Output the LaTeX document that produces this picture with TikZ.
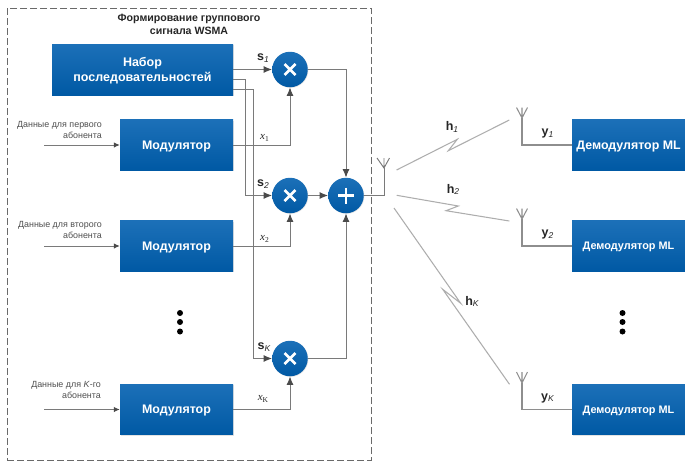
\documentclass[tikz,border=0pt]{standalone}
\usepackage{fontspec}
\setmainfont{Liberation Sans}
\newfontfamily\serifx{Liberation Serif}
\usetikzlibrary{arrows.meta,shadows,calc}
\definecolor{boxtop}{HTML}{1C70B8}
\definecolor{boxbot}{HTML}{0059A4}
\definecolor{wire}{HTML}{7A7A7A}
\definecolor{framegray}{HTML}{6A6A6A}
\definecolor{rxgray}{HTML}{8E8E8E}
\definecolor{tiparrow}{HTML}{4A4A4A}
\definecolor{txtgray}{HTML}{4F4F4F}
\definecolor{linkgray}{HTML}{ADADAD}
\newcommand\symlab[2]{{\fontsize{12.5}{13}\selectfont\bfseries #1}\raisebox{-1.5pt}{\fontsize{8.5}{8.5}\selectfont\itshape #2}}
\newcommand\xlab[2]{{\serifx\fontsize{11}{11}\selectfont\itshape #1}\raisebox{-2pt}{\serifx\fontsize{7.5}{7.5}\selectfont #2}}
\tikzset{
  x=1pt,y=-1pt,
  bluebox/.style={rectangle,inner sep=0pt,text depth=0pt,top color=boxtop,bottom color=boxbot,draw=none,text=white,
    align=center,font=\fontsize{12.4}{14}\selectfont\bfseries,
    drop shadow={opacity=.22,shadow xshift=.8pt,shadow yshift=-.8pt}},
  modbox/.style={bluebox,minimum width=113pt,minimum height=50.5pt},
  ball/.style={circle,inner sep=0pt,minimum size=35.5pt,top color=boxtop,bottom color=boxbot,draw=none,
    drop shadow={opacity=.22,shadow xshift=.6pt,shadow yshift=-.6pt}},
  mulball/.style={ball,path picture={\draw[white,line width=2.8pt]
      ($(path picture bounding box.center)+(-5.5,-5.5)$) -- ++(11,11)
      ($(path picture bounding box.center)+(5.5,-5.5)$) -- ++(-11,11);}},
  sumball/.style={ball,path picture={\draw[white,line width=2.8pt]
      ($(path picture bounding box.center)+(-8,0)$) -- ++(16,0)
      ($(path picture bounding box.center)+(0,-8)$) -- ++(0,16);}},
  wireline/.style={draw=wire,line width=.95pt},
  arrowline/.style={wireline,-{Latex[length=8.5pt,width=7pt,color=tiparrow]}},
  smallarrow/.style={wireline,-{Latex[length=6pt,width=5.5pt,color=tiparrow]}},
  linkline/.style={draw=linkgray,line width=1.05pt,line join=miter},
  antennaline/.style={draw=wire,line width=.95pt},
  rxline/.style={draw=rxgray,line width=1.05pt},
  datatext/.style={inner sep=0pt,anchor=east,align=right,text=txtgray,font=\fontsize{8.9}{11}\selectfont},
  sym/.style={inner sep=0pt,text=black!85},
  bigdot/.style={circle,fill=black,inner sep=0pt,minimum size=6pt},
}
\begin{document}
\begin{tikzpicture}
\useasboundingbox (0,0) rectangle (685,461);
\fill[white] (0,0) rectangle (685,461);
% frame
\node[draw=framegray,line width=.9pt,dash pattern=on 7pt off 3pt,rectangle,inner sep=0pt,minimum width=364pt,minimum height=452pt] (frame) at (189,234) {};
\node[inner sep=0pt,align=center,text=black!85,font=\fontsize{10.6}{13}\selectfont\bfseries] (title) at (189,24.5) {Формирование группового\\сигнала WSMA};
% blocks
\node[bluebox,minimum width=181pt,minimum height=51pt,font=\fontsize{12.5}{15}\selectfont\bfseries] (nabor) at (142.5,69.5) {Набор\\последовательностей};
\node[modbox] (mod1) at (176.5,145) {Модулятор};
\node[modbox] (mod2) at (176.5,246) {Модулятор};
\node[modbox] (modk) at (176.5,409.5) {Модулятор};
\node[mulball] (mul1) at (290,69.5) {};
\node[mulball] (mul2) at (290,195.5) {};
\node[mulball] (mulk) at (290,358.5) {};
\node[sumball] (sum) at (346,195.5) {};
\node[modbox,font=\fontsize{12.4}{14}\selectfont\bfseries] (dem1) at (628.5,145) {Демодулятор ML};
\node[modbox,font=\fontsize{10.9}{14}\selectfont\bfseries] (dem2) at (628.5,246) {Демодулятор ML};
\node[modbox,font=\fontsize{10.9}{14}\selectfont\bfseries] (demk) at (628.5,409.5) {Демодулятор ML};
% data labels
\node[datatext] (d1) at (102,129.5) {Данные для первого\\абонента};
\node[datatext] (d2) at (102,230) {Данные для второго\\абонента};
\node[datatext] (dk) at (101,389.5) {Данные для \textit{K}-го\\абонента};
% input stubs
\coordinate (in1) at (44,145);
\coordinate (in2) at (44,246);
\coordinate (ink) at (44,409.5);
\draw[smallarrow] (in1) -- (mod1);
\draw[smallarrow] (in2) -- (mod2);
\draw[smallarrow] (ink) -- (modk);
% sequences
\coordinate (out2) at (233,79.5);
\coordinate (outk) at (233,89);
\coordinate (turn2) at (245,79.5);
\coordinate (turnk) at (253,89);
\draw[arrowline] (nabor.east) -- (mul1.west);
\draw[arrowline] (out2) -- (turn2) |- (mul2.west);
\draw[arrowline] (outk) -- (turnk) |- (mulk.west);
% modulators to multipliers
\draw[arrowline] (mod1.east) -| (mul1.south);
\draw[arrowline] (mod2.east) -| (mul2.south);
\draw[arrowline] (modk.east) -| (mulk.south);
% to adder
\draw[arrowline] (mul1.east) -| (sum.north);
\draw[arrowline] (mul2.east) -- (sum.west);
\draw[arrowline] (mulk.east) -| (sum.south);
% tx antenna
\coordinate (txa) at (384,195.5);
\coordinate (txt) at (384,168);
\draw[antennaline] (sum.east) -- (txa) -- (txt);
\draw[antennaline] (377,158) -- (txt) -- (389.5,158) (txt) -- (384,158);
% rx antennas
\coordinate (rx1c) at (522,145);
\coordinate (rx1t) at (522,118);
\coordinate (rx2c) at (522,246);
\coordinate (rx2t) at (522,219);
\coordinate (rxkc) at (522,409.5);
\coordinate (rxkt) at (522,383);
\draw[rxline] (dem1.west) -- (rx1c) -- (rx1t);
\draw[rxline] (516.5,107.5) -- (rx1t) -- (527.5,107.5) (rx1t) -- (522,107.5);
\draw[rxline] (dem2.west) -- (rx2c) -- (rx2t);
\draw[rxline] (516.5,208.5) -- (rx2t) -- (527.5,208.5) (rx2t) -- (522,208.5);
\draw[rxline] (demk.west) -- (rxkc) -- (rxkt);
\draw[rxline] (516.5,372) -- (rxkt) -- (527.5,372) (rxkt) -- (522,372);
% radio links
\draw[linkline] (396.6,170) -- (457.3,139.3) -- (448.3,150.7) -- (509.3,120);
\draw[linkline] (396.7,195.3) -- (458.3,206) -- (446,210.7) -- (509.3,221);
\draw[linkline] (394,208) -- (460.7,303.3) -- (442.7,289.3) -- (509.5,384.3);
% labels
\node[sym] (ls1) at (263,58) {\symlab{s}{1}};
\node[sym] (ls2) at (263,184) {\symlab{s}{2}};
\node[sym] (lsk) at (264,347) {\symlab{s}{K}};
\node[sym] (lx1) at (264.5,137.5) {\xlab{x}{1}};
\node[sym] (lx2) at (264.5,238.5) {\xlab{x}{2}};
\node[sym] (lxk) at (263,399) {\xlab{x}{K}};
\node[sym] (lh1) at (452,127) {\symlab{h}{1}};
\node[sym] (lh2) at (453,189.5) {\symlab{h}{2}};
\node[sym] (lhk) at (472,301.5) {\symlab{h}{K}};
\node[sym] (ly1) at (547.5,133.5) {\symlab{y}{1}};
\node[sym] (ly2) at (547.5,234.5) {\symlab{y}{2}};
\node[sym] (lyk) at (547.5,398) {\symlab{y}{K}};
% dots
\node[bigdot] (ld1) at (180,313) {};
\node[bigdot] (ld2) at (180,322) {};
\node[bigdot] (ld3) at (180,331.5) {};
\node[bigdot] (rd1) at (622.5,313) {};
\node[bigdot] (rd2) at (622.5,322) {};
\node[bigdot] (rd3) at (622.5,331.5) {};
\end{tikzpicture}
\end{document}
